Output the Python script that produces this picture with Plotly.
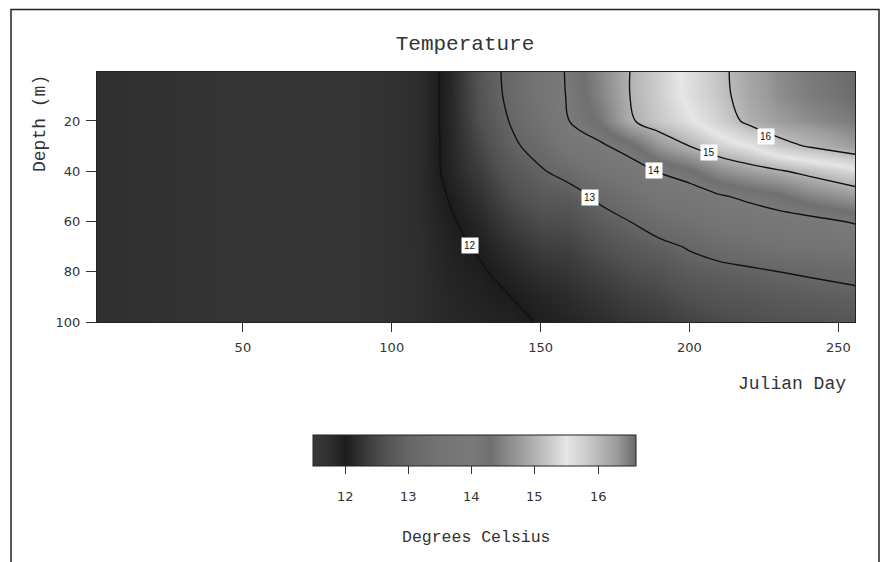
import plotly.graph_objects as go

# ---- data ----
days = [1, 25, 50, 75, 100, 110, 120, 130, 140, 150, 160, 170, 180, 190, 200, 210, 220, 230, 240, 256]
depths = [0, 10, 20, 30, 40, 50, 60, 70, 80, 90, 100]

# temperature (deg C), one list per day column, values top (0 m) to bottom (100 m)
col_001 = [11.74, 11.74, 11.74, 11.74, 11.74, 11.74, 11.74, 11.74, 11.74, 11.74, 11.74]
col_025 = [11.68, 11.68, 11.68, 11.68, 11.68, 11.68, 11.68, 11.68, 11.68, 11.68, 11.68]
col_050 = [11.62, 11.62, 11.62, 11.62, 11.62, 11.62, 11.62, 11.62, 11.62, 11.62, 11.62]
col_075 = [11.60, 11.60, 11.60, 11.60, 11.60, 11.60, 11.60, 11.60, 11.60, 11.60, 11.60]
col_100 = [11.68, 11.68, 11.68, 11.68, 11.68, 11.68, 11.68, 11.68, 11.68, 11.68, 11.68]
col_110 = [11.82, 11.82, 11.82, 11.82, 11.82, 11.82, 11.81, 11.80, 11.80, 11.80, 11.80]
col_120 = [12.12, 12.12, 12.12, 12.11, 12.10, 12.03, 11.97, 11.93, 11.90, 11.88, 11.86]
col_130 = [12.70, 12.68, 12.62, 12.50, 12.38, 12.25, 12.13, 12.04, 11.97, 11.93, 11.90]
col_140 = [13.15, 13.12, 13.03, 12.90, 12.72, 12.55, 12.38, 12.22, 12.10, 12.00, 11.93]
col_150 = [13.60, 13.58, 13.45, 13.20, 12.95, 12.75, 12.55, 12.38, 12.22, 12.10, 12.02]
col_160 = [14.10, 14.08, 14.02, 13.70, 13.20, 12.80, 12.58, 12.42, 12.30, 12.18, 12.10]
col_170 = [14.55, 14.50, 14.35, 13.92, 13.55, 13.10, 12.80, 12.60, 12.42, 12.28, 12.18]
col_180 = [15.00, 15.00, 14.95, 14.20, 13.75, 13.35, 13.00, 12.75, 12.55, 12.40, 12.28]
col_190 = [15.30, 15.28, 15.22, 14.72, 14.03, 13.65, 13.25, 12.88, 12.65, 12.48, 12.35]
col_200 = [15.60, 15.58, 15.45, 15.00, 14.25, 13.72, 13.40, 13.04, 12.80, 12.60, 12.43]
col_210 = [15.90, 15.88, 15.75, 15.30, 14.60, 13.95, 13.60, 13.20, 12.86, 12.68, 12.52]
col_220 = [16.20, 16.18, 16.10, 15.50, 14.80, 14.10, 13.70, 13.32, 12.92, 12.72, 12.58]
col_230 = [16.40, 16.38, 16.28, 15.85, 14.95, 14.25, 13.80, 13.45, 13.00, 12.78, 12.63]
col_240 = [16.50, 16.48, 16.38, 16.03, 15.12, 14.50, 13.85, 13.50, 13.05, 12.82, 12.66]
col_256 = [16.60, 16.58, 16.50, 16.30, 15.40, 14.75, 14.05, 13.60, 13.15, 12.88, 12.70]

columns = [col_001, col_025, col_050, col_075, col_100, col_110, col_120, col_130,
           col_140, col_150, col_160, col_170, col_180, col_190, col_200, col_210,
           col_220, col_230, col_240, col_256]
temperature = [[col[i] for col in columns] for i in range(len(depths))]

contour_levels = [12, 13, 14, 15, 16]
label_texts = ["12", "13", "14", "15", "16"]
label_days = [126.3, 166.6, 188.2, 206.4, 225.6]
label_depths = [69.6, 50.5, 39.6, 32.7, 26.0]

x_ticks = [50, 100, 150, 200, 250]
y_ticks = [20, 40, 60, 80, 100]
cbar_ticks = [12, 13, 14, 15, 16]

# ---- style ----
ZMIN, ZMAX = 11.49, 16.6
stop_temps = [11.49, 11.8, 12.0, 12.3, 12.6, 13.0, 13.5, 14.0, 14.3, 14.6, 15.0, 15.3, 15.5, 15.8, 16.0, 16.3, 16.6]
stop_grays = [58, 45, 28, 55, 80, 102, 115, 122, 112, 140, 178, 208, 230, 205, 185, 155, 105]
colorscale = [[(t - ZMIN) / (ZMAX - ZMIN), f"rgb({g},{g},{g})"] for t, g in zip(stop_temps, stop_grays)]
colorscale[0][0] = 0.0
colorscale[-1][0] = 1.0

W, H = 880, 562
L, R, T, B = 97, 25, 72, 240
pw, ph = W - L - R, H - T - B

# colorbar geometry (pixels)
CB_LEFT, CB_WIDTH, CB_TOP, CB_THICK = 313, 323, 435, 31


def px(xp):
    return (xp - L) / pw


def py(yp):
    return (H - B - yp) / ph


MONO = "Liberation Mono"
SANS = "DejaVu Sans"
TXT = "#333333"

fig = go.Figure()
fig.add_trace(go.Heatmap(
    x=days, y=depths, z=temperature, zsmooth="best",
    colorscale=colorscale, zmin=ZMIN, zmax=ZMAX,
    colorbar=dict(
        orientation="h", x=px(CB_LEFT + CB_WIDTH / 2), xanchor="center", y=py(CB_TOP), yanchor="top",
        len=CB_WIDTH, lenmode="pixels", thickness=CB_THICK, thicknessmode="pixels",
        outlinecolor="#222", outlinewidth=1, xpad=0, ypad=0,
        tickvals=cbar_ticks, ticks="outside", ticklen=8, tickcolor="#333",
        showticklabels=False,
    ),
    hoverinfo="skip",
))
fig.add_trace(go.Contour(
    x=days, y=depths, z=temperature,
    contours=dict(start=contour_levels[0], end=contour_levels[-1], size=1, coloring="none"),
    line=dict(color="#111", width=1.4), showscale=False, hoverinfo="skip",
))

annotations = []
for t, d, z in zip(label_texts, label_days, label_depths):
    annotations.append(dict(x=d, y=z, xref="x", yref="y", text=t, showarrow=False,
                            bgcolor="white", borderpad=2,
                            font=dict(family="Liberation Sans", size=10, color="#111")))
# colorbar tick labels, placed under the colorbar ticks
for v in cbar_ticks:
    xp = CB_LEFT + (v - ZMIN) / (ZMAX - ZMIN) * CB_WIDTH
    annotations.append(dict(text=str(v), xref="paper", yref="paper", x=px(xp), y=py(496),
                            showarrow=False, xanchor="center", yanchor="middle",
                            font=dict(family=SANS, size=13, color=TXT)))
annotations += [
    dict(text="Depth (m)", xref="paper", yref="paper", x=px(40), y=py(123), textangle=-90,
         showarrow=False, xanchor="center", yanchor="middle", font=dict(family=MONO, size=18, color=TXT)),
    dict(text="Julian Day", xref="paper", yref="paper", x=px(848), y=py(384),
         showarrow=False, xanchor="right", yanchor="middle", font=dict(family=MONO, size=18, color=TXT)),
    dict(text="Degrees Celsius", xref="paper", yref="paper", x=px(476), y=py(537),
         showarrow=False, xanchor="center", yanchor="middle", font=dict(family=MONO, size=16.5, color=TXT)),
]

fl, fr, ft, fb = px(11), px(879), py(9.5), py(575)
shapes = [dict(type="path", xref="paper", yref="paper",
               path=f"M {fl},{fb} L {fl},{ft} L {fr},{ft} L {fr},{fb}",
               line=dict(color="#222", width=1.5))]

axis_common = dict(ticks="outside", tickcolor="#333", showline=True, mirror=True,
                   linecolor="#222", linewidth=1, showgrid=False, zeroline=False,
                   tickfont=dict(family=SANS, size=13, color=TXT))
fig.update_layout(
    width=W, height=H, margin=dict(l=L, r=R, t=T, b=B),
    paper_bgcolor="white", plot_bgcolor="white",
    title=dict(text="Temperature", x=465 / W, xanchor="center", y=1 - 43 / H, yanchor="middle",
               font=dict(family=MONO, size=21, color=TXT)),
    xaxis=dict(range=[1, 255.6], tickvals=x_ticks, ticklen=9, ticklabelstandoff=4, **axis_common),
    yaxis=dict(range=[100, 0.5], tickvals=y_ticks, ticklen=10, ticklabelstandoff=3, **axis_common),
    annotations=annotations, shapes=shapes, showlegend=False,
)

fig.write_html("out.html")
